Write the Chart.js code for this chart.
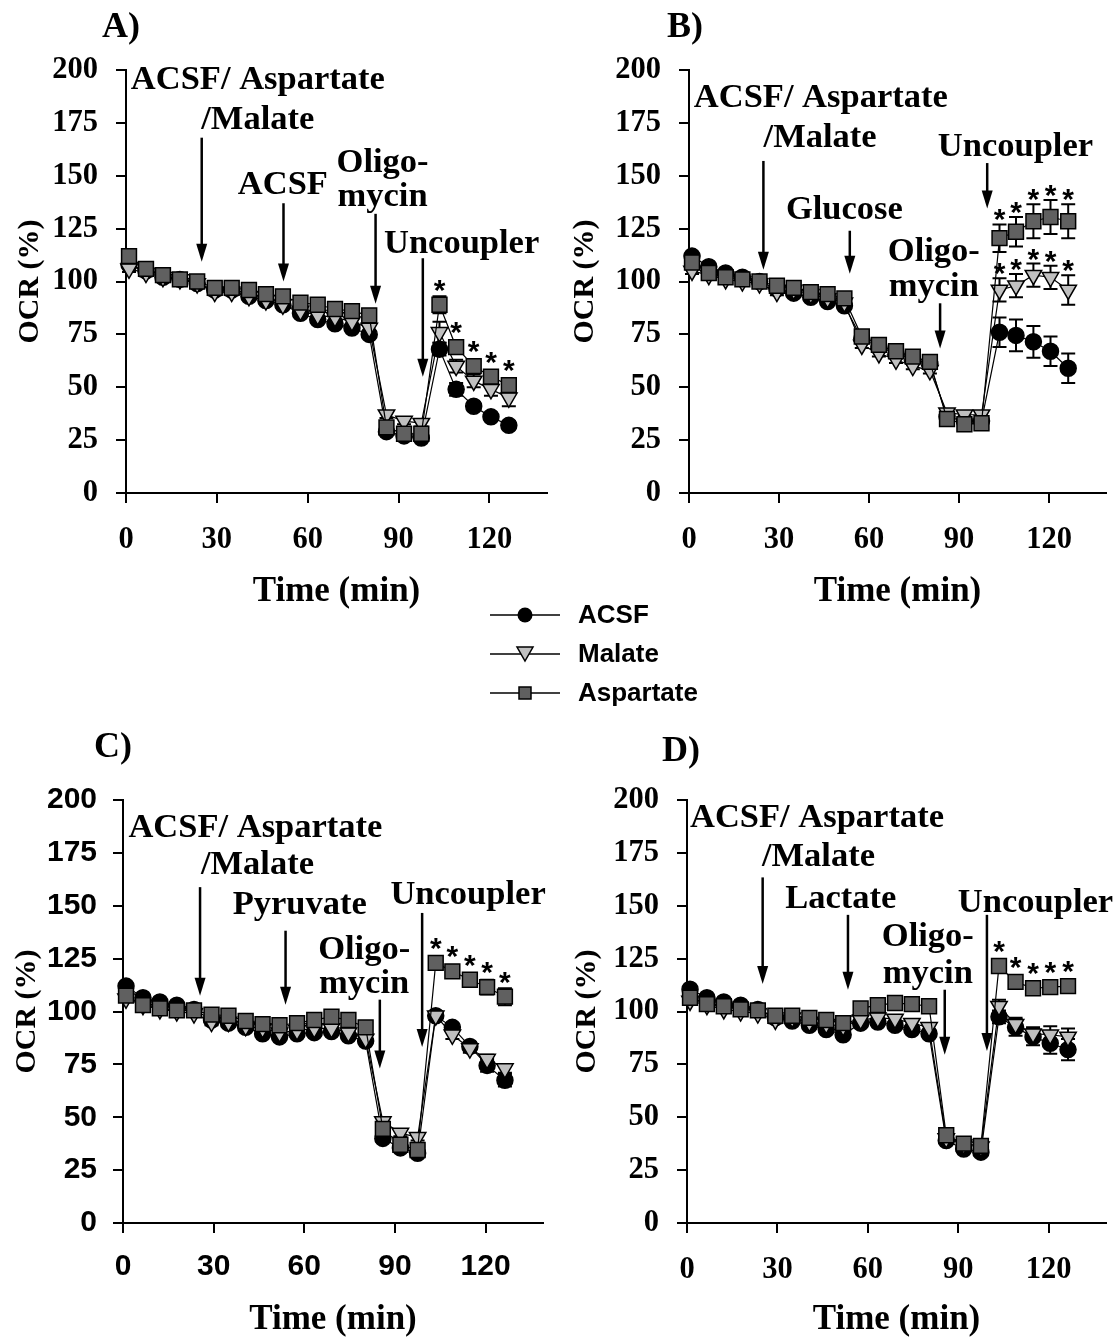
<!DOCTYPE html>
<html>
<head>
<meta charset="utf-8">
<script src="https://cdn.jsdelivr.net/npm/chart.js@4.4.1/dist/chart.umd.min.js"></script>
<style>
  body { margin: 0; background: #fff; width: 1118px; height: 1342px; position: relative; overflow: hidden; }
  canvas { position: absolute; }
  #legend { position: absolute; left: 490px; top: 595px; font: bold 26px "Liberation Sans", Arial, sans-serif; color: #000; }
  #legend div { height: 39px; display: flex; align-items: center; }
  #legend svg { margin-right: 18px; }
</style>
</head>
<body>
<canvas id="cA" width="559" height="620" style="left:0;top:0"></canvas>
<canvas id="cB" width="559" height="620" style="left:559px;top:0"></canvas>
<canvas id="cC" width="559" height="642" style="left:0;top:700px"></canvas>
<canvas id="cD" width="559" height="642" style="left:559px;top:700px"></canvas>
<div id="legend">
  <div><svg width="70" height="24"><line x1="0" y1="12" x2="70" y2="12" stroke="#000" stroke-width="1.5"/><circle cx="35" cy="12" r="7.5" fill="#000"/></svg>ACSF</div>
  <div><svg width="70" height="24"><line x1="0" y1="12" x2="70" y2="12" stroke="#000" stroke-width="1.5"/><polygon points="27,5 43,5 35,19" fill="#c0c0c0" stroke="#000" stroke-width="1.5"/></svg>Malate</div>
  <div><svg width="70" height="24"><line x1="0" y1="12" x2="70" y2="12" stroke="#000" stroke-width="1.5"/><rect x="29" y="6" width="12" height="12" fill="#606060" stroke="#000" stroke-width="1.5"/></svg>Aspartate</div>
</div>
<script>
// temps de mesure (min)
var times = [1, 6.6, 12.2, 17.8, 23.5, 29.3, 34.9, 40.6, 46.2, 51.8, 57.6, 63.3, 69, 74.6, 80.3, 86, 91.8, 97.5, 103.5, 109, 114.8, 120.5, 126.4];
var yTicks = [0, 25, 50, 75, 100, 125, 150, 175, 200];
var xTicks = [0, 30, 60, 90, 120];

// A) ACSF
var acsfA = [108, 105, 102, 101, 99, 96, 96, 93, 91, 89, 85, 82, 80, 78, 75, 29, 27, 26, 68, 49, 41, 36, 32];
var malA  = [106, 104, 102, 101, 99, 95, 95, 93, 91, 89, 86, 84, 83, 81, 78, 37, 34, 33, 76, 60, 53, 49, 45];
var aspA  = [112, 106, 103, 101, 100, 97, 97, 96, 94, 93, 90, 89, 87, 86, 84, 31, 28, 28, 89, 69, 60, 55, 51];
var acsfAErr = [1.5, 1.5, 1.5, 1.5, 1.5, 1.5, 1.5, 1.5, 1.5, 1.5, 1.5, 1.5, 1.5, 1.5, 1.5, 1.5, 1.5, 1.5, 3, 3, 2, 2, 2];
var malAErr  = [1.5, 1.5, 1.5, 1.5, 1.5, 1.5, 1.5, 1.5, 1.5, 1.5, 1.5, 1.5, 1.5, 1.5, 1.5, 1.5, 1.5, 1.5, 5, 3, 3, 3, 4];
var aspAErr  = [1.5, 1.5, 1.5, 1.5, 1.5, 1.5, 1.5, 1.5, 1.5, 1.5, 1.5, 1.5, 1.5, 1.5, 1.5, 1.5, 1.5, 1.5, 4, 2, 2, 2, 2];

// B) Glucose
var acsfB = [112, 107, 104, 102, 100, 96.5, 94.5, 92.5, 90.5, 88.5, 73, 69, 66, 63, 61, 36, 34, 34, 76, 74.5, 71.5, 67, 59];
var malB  = [105, 103, 101, 100, 99, 95, 96, 94, 92, 90, 70, 66, 63, 60, 58, 38, 37, 37, 96, 98, 103, 102, 96];
var aspB  = [109, 104, 102, 101, 100, 98, 97, 95, 94, 92, 74, 70, 67, 64.5, 62, 35, 32.5, 33, 120.5, 123.5, 128.5, 130.5, 128.5];
var acsfBErr = [1.5, 1.5, 1.5, 1.5, 1.5, 1.5, 1.5, 1.5, 1.5, 1.5, 1.5, 1.5, 1.5, 1.5, 1.5, 1.5, 1.5, 1.5, 7, 7.5, 7.5, 7, 7];
var malBErr  = [1.5, 1.5, 1.5, 1.5, 1.5, 1.5, 1.5, 1.5, 1.5, 1.5, 1.5, 1.5, 1.5, 1.5, 1.5, 1.5, 1.5, 1.5, 5.5, 5.5, 5.5, 5.5, 7];
var aspBErr  = [1.5, 1.5, 1.5, 1.5, 1.5, 1.5, 1.5, 1.5, 1.5, 1.5, 1.5, 1.5, 1.5, 1.5, 1.5, 1.5, 1.5, 1.5, 6.5, 7, 8, 8, 8];

// C) Pyruvate
var acsfC = [112, 106.5, 104.5, 103, 101, 96, 94.5, 92.5, 89.5, 88, 89.5, 90, 90.5, 88.5, 86, 40, 35.5, 33, 98, 92.5, 83.5, 74.5, 67.5];
var malC  = [106, 103, 101, 100, 99, 95, 95, 93, 92, 90, 91, 92, 92, 90, 87, 48, 42.5, 40.5, 98, 89, 82.5, 77.5, 73];
var aspC  = [107.5, 103, 101.5, 100.5, 100.5, 98.5, 98, 95.5, 94, 93.5, 94.5, 96, 97.5, 96, 92.5, 44.5, 37, 34.5, 123, 119, 115, 111.5, 107];
var acsfCErr = [1.5, 1.5, 1.5, 1.5, 1.5, 1.5, 1.5, 1.5, 1.5, 1.5, 1.5, 1.5, 1.5, 1.5, 1.5, 1.5, 1.5, 1.5, 2, 2, 2, 3, 3];
var malCErr  = [1.5, 1.5, 1.5, 1.5, 1.5, 1.5, 1.5, 1.5, 1.5, 1.5, 1.5, 1.5, 1.5, 1.5, 1.5, 1.5, 1.5, 1.5, 2, 2, 2, 2, 2];
var aspCErr  = [1.5, 1.5, 1.5, 1.5, 1.5, 1.5, 1.5, 1.5, 1.5, 1.5, 1.5, 1.5, 1.5, 1.5, 1.5, 1.5, 1.5, 1.5, 1.5, 2, 2.5, 3.5, 4];

// D) Lactate
var acsfD = [110.5, 106.5, 104.5, 103, 101, 97, 95.5, 93.5, 91.5, 89, 94.5, 95, 93.5, 91.5, 89.5, 39, 35, 33.5, 97.5, 92.5, 88, 85, 82];
var malD  = [105, 103, 101, 100, 99, 96, 97, 95, 94, 93, 96, 97, 96.5, 94.5, 92.5, 40, 37, 36, 102.5, 94, 89.5, 89, 88];
var aspD  = [106.5, 103.5, 102.5, 101, 100.5, 98, 98, 97, 96, 94.5, 101.5, 103, 104, 103.5, 102.5, 41.5, 37.5, 36.5, 121.5, 114, 111, 111.5, 112];
var acsfDErr = [1.5, 1.5, 1.5, 1.5, 1.5, 1.5, 1.5, 1.5, 1.5, 1.5, 1.5, 1.5, 1.5, 1.5, 1.5, 1.5, 1.5, 1.5, 3, 4, 4, 5, 5];
var malDErr  = [1.5, 1.5, 1.5, 1.5, 1.5, 1.5, 1.5, 1.5, 1.5, 1.5, 1.5, 1.5, 1.5, 1.5, 1.5, 1.5, 1.5, 1.5, 3, 3, 3, 4, 4];
var aspDErr  = [1.5, 1.5, 1.5, 1.5, 1.5, 1.5, 1.5, 1.5, 1.5, 1.5, 1.5, 1.5, 1.5, 1.5, 1.5, 1.5, 1.5, 1.5, 1.5, 1.5, 1.5, 1.5, 1.5];

// points significatifs (*) : les 5 mesures après le découpleur
var sigUncoupler = [0,0,0,0,0,0,0,0,0,0,0,0,0,0,0,0,0,0,1,1,1,1,1];
var sigNone      = [0,0,0,0,0,0,0,0,0,0,0,0,0,0,0,0,0,0,0,0,0,0,0];

var SERIF = '"Liberation Serif", "Times New Roman", serif';
var SANS = '"Liberation Sans", Arial, sans-serif';

// barres d'erreur, flèches, textes, étoiles
var marksPlugin = {
  id: 'marks',
  beforeDatasetsDraw: function(chart) {
    var ctx = chart.ctx, xs = chart.scales.x, ys = chart.scales.y;
    ctx.save();
    ctx.strokeStyle = '#000';
    ctx.lineWidth = 2;
    chart.data.datasets.forEach(function(ds) {
      ds.data.forEach(function(p, i) {
        var e = ds.errors[i];
        var x = xs.getPixelForValue(p.x);
        var y1 = ys.getPixelForValue(p.y + e), y2 = ys.getPixelForValue(p.y - e);
        ctx.beginPath();
        ctx.moveTo(x, y1); ctx.lineTo(x, y2);
        ctx.moveTo(x - 7, y1); ctx.lineTo(x + 7, y1);
        ctx.moveTo(x - 7, y2); ctx.lineTo(x + 7, y2);
        ctx.stroke();
      });
    });
    ctx.restore();
  },
  afterDatasetsDraw: function(chart, args, opts) {
    var ctx = chart.ctx, xs = chart.scales.x, ys = chart.scales.y;
    ctx.save();
    // flèches
    ctx.fillStyle = '#000';
    ctx.strokeStyle = '#000';
    opts.arrows.forEach(function(a) {
      var x = xs.getPixelForValue(a.x), y1 = ys.getPixelForValue(a.y1), y2 = ys.getPixelForValue(a.y2);
      ctx.lineWidth = 2.5;
      ctx.beginPath(); ctx.moveTo(x, y1); ctx.lineTo(x, y2 - 12); ctx.stroke();
      ctx.beginPath(); ctx.moveTo(x - 5.5, y2 - 18); ctx.lineTo(x + 5.5, y2 - 18); ctx.lineTo(x, y2); ctx.closePath(); ctx.fill();
    });
    // textes
    ctx.font = 'bold 34.5px ' + SERIF;
    ctx.textBaseline = 'middle';
    opts.texts.forEach(function(t) {
      ctx.textAlign = t.align || 'center';
      ctx.fillText(t.t, xs.getPixelForValue(t.x), ys.getPixelForValue(t.y));
    });
    // étoiles
    ctx.font = 'bold 30px ' + SANS;
    ctx.textAlign = 'center';
    ctx.textBaseline = 'alphabetic';
    chart.data.datasets.forEach(function(ds) {
      ds.data.forEach(function(p, i) {
        if (!ds.sig[i]) return;
        var x = xs.getPixelForValue(p.x);
        var c = Math.min(ys.getPixelForValue(p.y) - 22, ys.getPixelForValue(p.y + ds.errors[i]) - 12);
        ctx.fillText('*', x, c + 17);
      });
    });
    // lettre du panneau
    ctx.font = 'bold 36px ' + SERIF;
    ctx.textBaseline = 'middle';
    ctx.fillText(opts.letter, opts.letterX, opts.letterY);
    ctx.restore();
  }
};

function serie(label, values, errs, sig, style, fill, radius, rot) {
  return {
    label: label,
    data: values.map(function(v, i) { return { x: times[i], y: v }; }),
    errors: errs,
    sig: sig,
    borderColor: '#000',
    borderWidth: 1.2,
    pointStyle: style,
    pointRotation: rot,
    pointRadius: radius,
    pointBackgroundColor: fill,
    pointBorderColor: '#000',
    pointBorderWidth: 1.5,
    tension: 0,
    clip: false
  };
}

function panneau(id, p) {
  var cv = document.getElementById(id);
  var W = cv.width, H = cv.height;
  var tickFont = { family: p.tickFamily, size: p.tickSize, weight: 'bold' };
  new Chart(cv, {
    type: 'line',
    data: {
      datasets: [
        serie('Aspartate', p.asp, p.aspErr, p.aspSig, 'rect', '#606060', 10.5, 0),
        serie('Malate', p.mal, p.malErr, p.malSig, 'triangle', '#c0c0c0', 9.5, 180),
        serie('ACSF', p.acsf, p.acsfErr, sigNone, 'circle', '#000', 8, 0)
      ]
    },
    options: {
      responsive: false,
      animation: false,
      events: [],
      layout: { padding: { top: p.top, right: W - p.right, left: 0, bottom: 0 } },
      scales: {
        x: {
          type: 'linear', min: 0, max: 139,
          afterFit: function(s) { s.height = H - p.bottom; },
          afterBuildTicks: function(s) { s.ticks = xTicks.map(function(v) { return { value: v }; }); },
          ticks: { font: tickFont, color: '#000', padding: p.xPad },
          grid: { drawOnChartArea: false, drawTicks: true, tickLength: 10, color: '#000', lineWidth: 2 },
          border: { color: '#000', width: 2 },
          title: { display: true, text: 'Time (min)', color: '#000', font: { family: SERIF, size: 35, weight: 'bold' }, padding: { top: 0, bottom: p.xTitlePad } }
        },
        y: {
          min: 0, max: 200,
          afterFit: function(s) { s.width = p.left; },
          afterBuildTicks: function(s) { s.ticks = yTicks.map(function(v) { return { value: v }; }); },
          ticks: { font: tickFont, color: '#000', padding: p.yPad },
          grid: { drawOnChartArea: false, drawTicks: true, tickLength: 10, color: '#000', lineWidth: 2 },
          border: { color: '#000', width: 2 },
          title: { display: true, text: 'OCR (%)', color: '#000', font: { family: SERIF, size: 30, weight: 'bold' }, padding: { top: p.yTitlePad, bottom: 0 } }
        }
      },
      plugins: {
        legend: { display: false },
        tooltip: { enabled: false },
        marks: { arrows: p.arrows, texts: p.texts, letter: p.letter, letterX: p.letterX, letterY: p.letterY }
      }
    },
    plugins: [marksPlugin]
  });
}

panneau('cA', {
  acsf: acsfA, mal: malA, asp: aspA, acsfErr: acsfAErr, malErr: malAErr, aspErr: aspAErr,
  malSig: sigNone, aspSig: sigUncoupler,
  left: 126, top: 70, right: 548, bottom: 493,
  tickFamily: SERIF, tickSize: 30.5, xPad: 19, yPad: 18, xTitlePad: 7, yTitlePad: 12,
  letter: 'A)', letterX: 121, letterY: 28,
  texts: [
    { t: 'ACSF/ Aspartate', x: 1.6, y: 195, align: 'left' },
    { t: '/Malate', x: 43.5, y: 176.5 },
    { t: 'ACSF', x: 51.8, y: 145.7 },
    { t: 'Oligo-', x: 84.7, y: 156 },
    { t: 'mycin', x: 84.7, y: 140 },
    { t: 'Uncoupler', x: 110.8, y: 117.7 }
  ],
  arrows: [ { x: 25, y1: 168, y2: 109.3 }, { x: 52, y1: 137, y2: 100 }, { x: 82.4, y1: 132, y2: 89.5 }, { x: 98, y1: 111, y2: 55 } ]
});

panneau('cB', {
  acsf: acsfB, mal: malB, asp: aspB, acsfErr: acsfBErr, malErr: malBErr, aspErr: aspBErr,
  malSig: sigUncoupler, aspSig: sigUncoupler,
  left: 130, top: 70, right: 550, bottom: 493,
  tickFamily: SERIF, tickSize: 30.5, xPad: 19, yPad: 18, xTitlePad: 7, yTitlePad: 8,
  letter: 'B)', letterX: 126, letterY: 28,
  texts: [
    { t: 'ACSF/ Aspartate', x: 1.6, y: 186.8, align: 'left' },
    { t: '/Malate', x: 43.7, y: 168 },
    { t: 'Glucose', x: 51.8, y: 133.6 },
    { t: 'Oligo-', x: 81.6, y: 114 },
    { t: 'mycin', x: 81.6, y: 97.2 },
    { t: 'Uncoupler', x: 108.8, y: 163.4 }
  ],
  arrows: [ { x: 24.8, y1: 157, y2: 105.6 }, { x: 53.6, y1: 124, y2: 103.7 }, { x: 83.7, y1: 89.7, y2: 68.3 }, { x: 99.4, y1: 156, y2: 134.5 } ]
});

panneau('cC', {
  acsf: acsfC, mal: malC, asp: aspC, acsfErr: acsfCErr, malErr: malCErr, aspErr: aspCErr,
  malSig: sigNone, aspSig: sigUncoupler,
  left: 123, top: 100, right: 543, bottom: 523,
  tickFamily: SANS, tickSize: 30, xPad: 16, yPad: 16, xTitlePad: 1, yTitlePad: 9,
  letter: 'C)', letterX: 113, letterY: 48,
  texts: [
    { t: 'ACSF/ Aspartate', x: 1.8, y: 186.8, align: 'left' },
    { t: '/Malate', x: 44.5, y: 169 },
    { t: 'Pyruvate', x: 58.5, y: 150.4 },
    { t: 'Oligo-', x: 79.8, y: 129 },
    { t: 'mycin', x: 79.8, y: 113 },
    { t: 'Uncoupler', x: 114.2, y: 155 }
  ],
  arrows: [ { x: 25.5, y1: 158.8, y2: 107.5 }, { x: 53.8, y1: 138.2, y2: 103.2 }, { x: 85, y1: 105.6, y2: 73 }, { x: 99, y1: 146.6, y2: 83.2 } ]
});

panneau('cD', {
  acsf: acsfD, mal: malD, asp: aspD, acsfErr: acsfDErr, malErr: malDErr, aspErr: aspDErr,
  malSig: sigNone, aspSig: sigUncoupler,
  left: 128, top: 100, right: 548, bottom: 523,
  tickFamily: SERIF, tickSize: 30.5, xPad: 19, yPad: 18, xTitlePad: 1, yTitlePad: 10,
  letter: 'D)', letterX: 122, letterY: 52,
  texts: [
    { t: 'ACSF/ Aspartate', x: 1, y: 191.4, align: 'left' },
    { t: '/Malate', x: 43.6, y: 172.8 },
    { t: 'Lactate', x: 51, y: 153 },
    { t: 'Oligo-', x: 79.9, y: 135.4 },
    { t: 'mycin', x: 79.9, y: 117.7 },
    { t: 'Uncoupler', x: 115.6, y: 151.3 }
  ],
  arrows: [ { x: 25.1, y1: 163.4, y2: 113 }, { x: 53.4, y1: 145.7, y2: 110.3 }, { x: 85.5, y1: 110.3, y2: 79.5 }, { x: 99.5, y1: 145.7, y2: 81.3 } ]
});
</script>
</body>
</html>
